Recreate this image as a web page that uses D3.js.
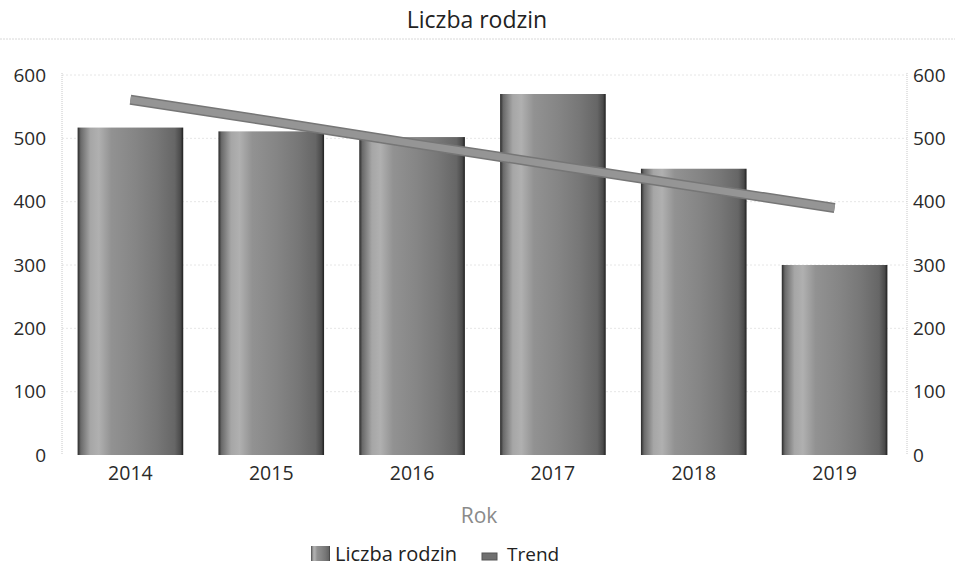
<!DOCTYPE html>
<html><head><meta charset="utf-8">
<script src="https://cdn.jsdelivr.net/npm/d3@7"></script>
<style>body{margin:0;background:#fff;} svg{display:block;font-family:"Open Sans",sans-serif;}</style>
</head><body>
<svg id="c" width="955" height="573"></svg>
<script>
const years = ["2014","2015","2016","2017","2018","2019"];
const families = [517, 511, 502, 570, 452, 300];
const trend = [561, 527, 492, 458, 424, 390];
const yTicks = [0, 100, 200, 300, 400, 500, 600];
const chartTitle = "Liczba rodzin";
const xTitle = "Rok";
const legendLabels = ["Liczba rodzin", "Trend"];

const svg = d3.select("#c");
const W = 955, H = 573;
const m = {l: 62, r: 907, t: 75, b: 455};

const x = d3.scaleBand().domain(years).range([m.l - 2, m.r - 2]).paddingInner(0.25).paddingOuter(0.125);
const y = d3.scaleLinear().domain([0, 600]).range([m.b, m.t]);

const defs = svg.append("defs");
const g = defs.append("linearGradient").attr("id","barGrad").attr("x1","0").attr("x2","1").attr("y1","0").attr("y2","0");
[[0,"#2a2a2a"],[0.03,"#6a6a6a"],[0.12,"#a6a6a6"],[0.2,"#b0b0b0"],[0.32,"#929292"],[0.55,"#858585"],[0.75,"#777"],[0.92,"#666"],[0.975,"#4a4a4a"],[1,"#1e1e1e"]]
  .forEach(([o,c]) => g.append("stop").attr("offset",o).attr("stop-color",c));

// title
svg.append("text").attr("x", 477).attr("y", 28).attr("text-anchor","middle")
  .attr("font-size", 23).attr("fill","#222").text(chartTitle);
svg.append("line").attr("x1",0).attr("x2",W).attr("y1",39).attr("y2",39)
  .attr("stroke","#d8d8d8").attr("stroke-width",1).attr("stroke-dasharray","2,1");

// gridlines
svg.append("g").selectAll("line").data(yTicks.filter(d=>d>0)).join("line")
  .attr("x1", m.l).attr("x2", m.r).attr("y1", d=>y(d)).attr("y2", d=>y(d))
  .attr("stroke","#e6e6e6").attr("stroke-dasharray","2,2");

// axis lines (dotted)
[m.l, m.r].forEach(xx => svg.append("line").attr("x1",xx).attr("x2",xx).attr("y1",y(600)-2).attr("y2",y(0))
  .attr("stroke","#c8c8c8").attr("stroke-dasharray","1,1"));

// left axis
const la = svg.append("g").attr("transform",`translate(${m.l},0)`)
  .call(d3.axisLeft(y).tickValues(yTicks).tickSize(0).tickPadding(16));
la.select(".domain").remove();
la.selectAll("text").attr("font-size",19).attr("fill","#2a2a2a").attr("font-family","Open Sans");
// right axis
const ra = svg.append("g").attr("transform",`translate(${m.r},0)`)
  .call(d3.axisRight(y).tickValues(yTicks).tickSize(0).tickPadding(6));
ra.select(".domain").remove();
ra.selectAll("text").attr("font-size",19).attr("fill","#2a2a2a").attr("font-family","Open Sans");

// bars
svg.append("g").selectAll("rect").data(years).join("rect")
  .attr("x", d=>x(d)).attr("width", x.bandwidth())
  .attr("y", (d,i)=>y(families[i])).attr("height", (d,i)=>y(0)-y(families[i]))
  .attr("fill","url(#barGrad)");

// x axis labels
const xa = svg.append("g").attr("transform",`translate(0,${m.b})`)
  .call(d3.axisBottom(x).tickSize(0).tickPadding(11));
xa.select(".domain").remove();
xa.selectAll("text").attr("font-size",19.5).attr("fill","#2a2a2a").attr("font-family","Open Sans");

// trend line
const line = d3.line().x((d,i)=>x(years[i]) + x.bandwidth()/2).y(d=>y(d));
svg.append("path").datum(trend).attr("d", line).attr("fill","none")
  .attr("stroke","#767676").attr("stroke-width",10);
svg.append("path").datum(trend).attr("d", line).attr("fill","none")
  .attr("stroke","#959595").attr("stroke-width",7);

// x title
svg.append("text").attr("x", 479).attr("y", 523).attr("text-anchor","middle")
  .attr("font-size", 21).attr("fill","#8a8a8a").text(xTitle);

// legend
const lg = svg.append("g");
lg.append("rect").attr("x",311).attr("y",546).attr("width",19).attr("height",15).attr("fill","url(#barGrad)");
lg.append("text").attr("x",335).attr("y",561).attr("font-size",20).attr("fill","#222").text(legendLabels[0]);
lg.append("rect").attr("x",482).attr("y",553).attr("width",15).attr("height",7).attr("fill","#707070").attr("stroke","#555").attr("stroke-width",1);
lg.append("text").attr("x",507).attr("y",561).attr("font-size",19).attr("fill","#222").text(legendLabels[1]);
</script>
</body></html>
